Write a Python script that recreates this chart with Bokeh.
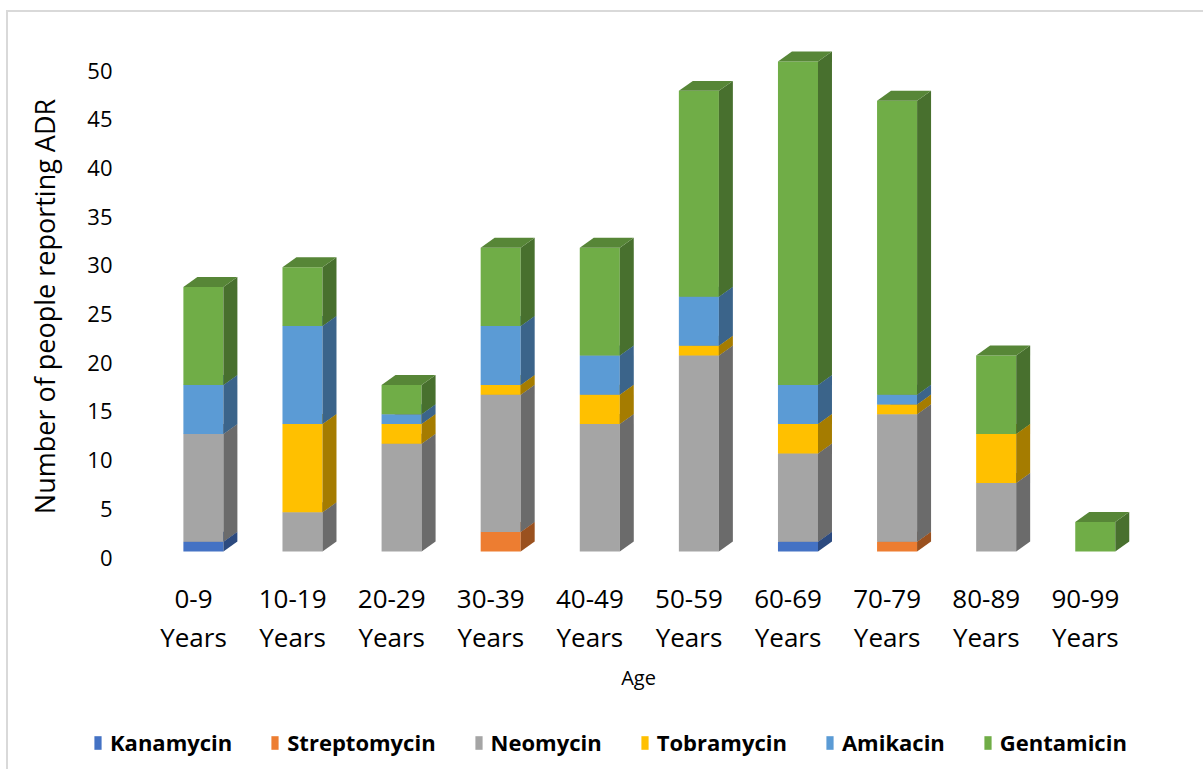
from bokeh.plotting import figure
from bokeh.layouts import column
from bokeh.models import (ColumnDataSource, Range1d, LinearAxis, FixedTicker,
                          Legend, LegendItem)
from bokeh.embed import file_html
from bokeh.resources import INLINE

# ---------------- data ----------------
categories = ["0-9 Years", "10-19 Years", "20-29 Years", "30-39 Years", "40-49 Years",
              "50-59 Years", "60-69 Years", "70-79 Years", "80-89 Years", "90-99 Years"]
series_names = ["Kanamycin", "Streptomycin", "Neomycin", "Tobramycin", "Amikacin", "Gentamicin"]
kanamycin    = [1, 0, 0, 0, 0, 0, 1, 0, 0, 0]
streptomycin = [0, 0, 0, 2, 0, 0, 0, 1, 0, 0]
neomycin     = [11, 4, 11, 14, 13, 20, 9, 13, 7, 0]
tobramycin   = [0, 9, 2, 1, 3, 1, 3, 1, 5, 0]
amikacin     = [5, 10, 1, 6, 4, 5, 4, 1, 0, 0]
gentamicin   = [10, 6, 3, 8, 11, 21, 33, 30, 8, 3]
series_values = [kanamycin, streptomycin, neomycin, tobramycin, amikacin, gentamicin]
colors = ["#4472C4", "#ED7D31", "#A5A5A5", "#FFC000", "#5B9BD5", "#70AD47"]
y_ticks = [0, 5, 10, 15, 20, 25, 30, 35, 40, 45, 50]

FONT = "Open Sans"
BORDER = "#D9D9D9"


def shade(hx, f):
    hx = hx.lstrip("#")
    r, g, b = (int(hx[i:i + 2], 16) for i in (0, 2, 4))
    return "#%02x%02x%02x" % (int(r * f), int(g * f), int(b * f))


# geometry of the pseudo-3D columns (in data units)
BAR_OFF = 0.10
BAR_W = 0.404
DEPTH_X = 0.141
DEPTH_Y = 1.02

OFF_X, OFF_Y = 8, 12          # page offset of the figures (margin + border)
W = 1203 - OFF_X
MAIN_H = 709 - OFF_Y
LEG_H = 769 - 709

p = figure(width=W, height=MAIN_H,
           x_range=Range1d(-0.6357, 9.617),
           y_range=Range1d(-1.43, 52.14),
           output_backend="svg", toolbar_location=None,
           y_axis_location=None,
           min_border_left=130 - OFF_X, min_border_right=1203 - 1146,
           min_border_top=40 - OFF_Y, min_border_bottom=MAIN_H - (565 - OFF_Y))
p.outline_line_color = None
p.xgrid.visible = False
p.ygrid.visible = False
p.background_fill_color = "white"
p.border_fill_color = "white"

# value axis drawn against a slightly shifted "wall" range
p.extra_y_ranges = {"wall": Range1d(-0.82, 53.08)}
yax = LinearAxis(y_range_name="wall", ticker=FixedTicker(ticks=y_ticks),
                 axis_label="Number of people reporting  ADR")
yax.axis_line_color = None
yax.major_tick_line_color = None
yax.minor_tick_line_color = None
yax.major_label_text_font = FONT
yax.major_label_text_font_size = "22px"
yax.major_label_text_color = "#000000"
yax.major_label_standoff = 12
yax.axis_label_text_font = FONT
yax.axis_label_text_font_size = "27px"
yax.axis_label_text_font_style = "normal"
yax.axis_label_text_color = "#000000"
yax.axis_label_standoff = 21
p.add_layout(yax, "left")

xax = p.xaxis[0]
xax.ticker = FixedTicker(ticks=list(range(len(categories))))
xax.major_label_overrides = {i: c.replace(" ", "\n") for i, c in enumerate(categories)}
xax.axis_line_color = None
xax.major_tick_line_color = None
xax.minor_tick_line_color = None
xax.major_label_text_font = FONT
xax.major_label_text_font_size = "26px"
xax.major_label_text_color = "#000000"
xax.major_label_text_line_height = 1.1
xax.major_label_standoff = 8
xax.axis_label = "Age"
xax.axis_label_text_font = FONT
xax.axis_label_text_font_size = "20px"
xax.axis_label_text_font_style = "normal"
xax.axis_label_text_color = "#000000"
xax.axis_label_standoff = 6

# ---------------- stacked pseudo-3D columns ----------------
n = len(categories)
base = [0.0] * n
for name, vals, col in zip(series_names, series_values, colors):
    xs_c, bot, top = [], [], []
    side_xs, side_ys, top_xs, top_ys = [], [], [], []
    for i in range(n):
        v = vals[i]
        b = base[i]
        t = b + v
        base[i] = t
        if v <= 0:
            continue
        xc = i + BAR_OFF
        x0 = xc - BAR_W / 2
        x1 = xc + BAR_W / 2
        xs_c.append(xc)
        bot.append(b)
        top.append(t)
        side_xs.append([x1, x1 + DEPTH_X, x1 + DEPTH_X, x1])
        side_ys.append([b, b + DEPTH_Y, t + DEPTH_Y, t])
        top_xs.append([x0, x1, x1 + DEPTH_X, x0 + DEPTH_X])
        top_ys.append([t, t, t + DEPTH_Y, t + DEPTH_Y])
    src = ColumnDataSource(dict(x=xs_c, bottom=bot, top=top))
    p.vbar(x="x", width=BAR_W, bottom="bottom", top="top", source=src,
           fill_color=col, line_color=None)
    p.patches(side_xs, side_ys, fill_color=shade(col, 0.65), line_color=None)
    p.patches(top_xs, top_ys, fill_color=shade(col, 0.78), line_color=None)

# ---------------- legend strip ----------------
pl = figure(width=W, height=LEG_H, x_range=Range1d(0, 1), y_range=Range1d(0, 1),
            output_backend="svg", toolbar_location=None,
            x_axis_location=None, y_axis_location=None, min_border=0)
pl.outline_line_color = None
pl.xgrid.visible = False
pl.ygrid.visible = False
pl.background_fill_color = "white"
pl.border_fill_color = "white"
can_unalign = "frame_align" in pl.properties()
if can_unalign:
    pl.frame_align = False
items = []
for name, col in zip(series_names, colors):
    # legend proxy glyphs, kept outside the visible range
    r = pl.vbar(x=[-5], bottom=[-5], top=[-4], width=0.1, fill_color=col, line_color=None)
    items.append(LegendItem(label=name, renderers=[r]))
legend = Legend(items=items, orientation="horizontal",
                location=(85, 12) if can_unalign else "center")
legend.label_text_font = FONT
legend.label_text_font_size = "22px"
legend.label_text_font_style = "bold"
legend.label_text_color = "#000000"
legend.glyph_width = 9
legend.glyph_height = 17
legend.label_standoff = 8
legend.spacing = 38
legend.border_line_color = None
legend.background_fill_alpha = 0
legend.padding = 4
legend.margin = 0
pl.add_layout(legend)

layout = column(p, pl, spacing=0, margin=(10, 0, 0, 6),
                styles={"border-top": "2px solid " + BORDER,
                        "border-left": "2px solid " + BORDER})
open("out.html", "w").write(file_html(layout, INLINE))
